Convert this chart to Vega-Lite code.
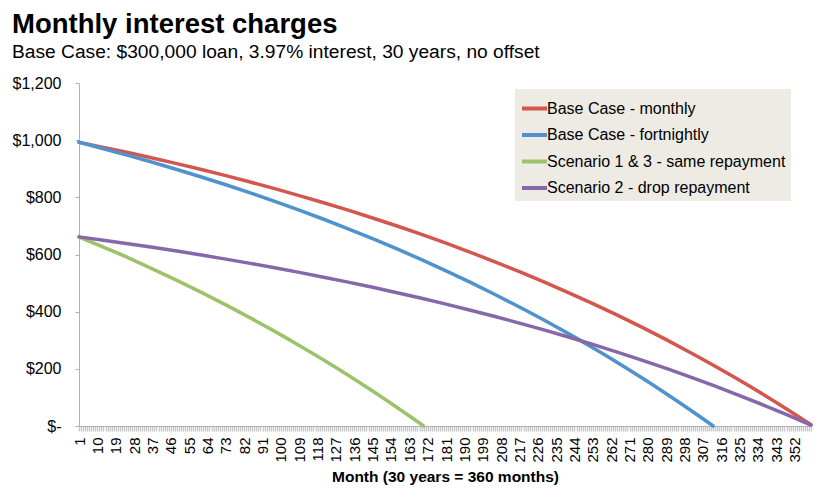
{
  "$schema": "https://vega.github.io/schema/vega-lite/v6.json",
  "width": 732,
  "height": 343,
  "autosize": {"type": "none"},
  "padding": {"left": 79, "top": 83, "right": 13, "bottom": 74},
  "background": "white",
  "title": {
    "text": "Monthly interest charges",
    "subtitle": "Base Case: $300,000 loan, 3.97% interest, 30 years, no offset",
    "anchor": "start",
    "frame": "group",
    "dx": -67,
    "offset": 13,
    "font": "Liberation Sans",
    "fontSize": 27.5,
    "fontWeight": "bold",
    "color": "black",
    "subtitleFont": "Liberation Sans",
    "subtitleFontSize": 19.2,
    "subtitleColor": "black",
    "subtitlePadding": 4
  },
  "data": {
    "values": [
      {"s": "Base Case - monthly", "m": 1, "v": 992.5},
      {"s": "Base Case - monthly", "m": 13, "v": 974.9},
      {"s": "Base Case - monthly", "m": 25, "v": 956.6},
      {"s": "Base Case - monthly", "m": 37, "v": 937.6},
      {"s": "Base Case - monthly", "m": 49, "v": 917.9},
      {"s": "Base Case - monthly", "m": 61, "v": 897.3},
      {"s": "Base Case - monthly", "m": 73, "v": 875.8},
      {"s": "Base Case - monthly", "m": 85, "v": 853.5},
      {"s": "Base Case - monthly", "m": 97, "v": 830.4},
      {"s": "Base Case - monthly", "m": 109, "v": 806.2},
      {"s": "Base Case - monthly", "m": 121, "v": 781.1},
      {"s": "Base Case - monthly", "m": 133, "v": 755.0},
      {"s": "Base Case - monthly", "m": 145, "v": 727.8},
      {"s": "Base Case - monthly", "m": 157, "v": 699.6},
      {"s": "Base Case - monthly", "m": 169, "v": 670.2},
      {"s": "Base Case - monthly", "m": 181, "v": 639.5},
      {"s": "Base Case - monthly", "m": 193, "v": 607.7},
      {"s": "Base Case - monthly", "m": 205, "v": 574.6},
      {"s": "Base Case - monthly", "m": 217, "v": 540.1},
      {"s": "Base Case - monthly", "m": 229, "v": 504.2},
      {"s": "Base Case - monthly", "m": 241, "v": 466.9},
      {"s": "Base Case - monthly", "m": 253, "v": 428.1},
      {"s": "Base Case - monthly", "m": 265, "v": 387.7},
      {"s": "Base Case - monthly", "m": 277, "v": 345.7},
      {"s": "Base Case - monthly", "m": 289, "v": 302.0},
      {"s": "Base Case - monthly", "m": 301, "v": 256.5},
      {"s": "Base Case - monthly", "m": 313, "v": 209.2},
      {"s": "Base Case - monthly", "m": 325, "v": 159.9},
      {"s": "Base Case - monthly", "m": 337, "v": 108.7},
      {"s": "Base Case - monthly", "m": 349, "v": 55.4},
      {"s": "Base Case - monthly", "m": 360, "v": 4.7},
      {"s": "Base Case - fortnightly", "m": 1, "v": 992.5},
      {"s": "Base Case - fortnightly", "m": 13, "v": 970.1},
      {"s": "Base Case - fortnightly", "m": 25, "v": 946.8},
      {"s": "Base Case - fortnightly", "m": 37, "v": 922.6},
      {"s": "Base Case - fortnightly", "m": 49, "v": 897.4},
      {"s": "Base Case - fortnightly", "m": 61, "v": 871.2},
      {"s": "Base Case - fortnightly", "m": 73, "v": 843.9},
      {"s": "Base Case - fortnightly", "m": 85, "v": 815.5},
      {"s": "Base Case - fortnightly", "m": 97, "v": 786.0},
      {"s": "Base Case - fortnightly", "m": 109, "v": 755.3},
      {"s": "Base Case - fortnightly", "m": 121, "v": 723.3},
      {"s": "Base Case - fortnightly", "m": 133, "v": 690.0},
      {"s": "Base Case - fortnightly", "m": 145, "v": 655.4},
      {"s": "Base Case - fortnightly", "m": 157, "v": 619.4},
      {"s": "Base Case - fortnightly", "m": 169, "v": 581.9},
      {"s": "Base Case - fortnightly", "m": 181, "v": 543.0},
      {"s": "Base Case - fortnightly", "m": 193, "v": 502.4},
      {"s": "Base Case - fortnightly", "m": 205, "v": 460.2},
      {"s": "Base Case - fortnightly", "m": 217, "v": 416.3},
      {"s": "Base Case - fortnightly", "m": 229, "v": 370.7},
      {"s": "Base Case - fortnightly", "m": 241, "v": 323.1},
      {"s": "Base Case - fortnightly", "m": 253, "v": 273.7},
      {"s": "Base Case - fortnightly", "m": 265, "v": 222.3},
      {"s": "Base Case - fortnightly", "m": 277, "v": 168.7},
      {"s": "Base Case - fortnightly", "m": 289, "v": 113.1},
      {"s": "Base Case - fortnightly", "m": 301, "v": 55.1},
      {"s": "Base Case - fortnightly", "m": 311, "v": 5.1},
      {"s": "Base Case - fortnightly", "m": 312, "v": 0},
      {"s": "Scenario 1 & 3 - same repayment", "m": 1, "v": 661.3},
      {"s": "Scenario 1 & 3 - same repayment", "m": 13, "v": 625.5},
      {"s": "Scenario 1 & 3 - same repayment", "m": 25, "v": 589.3},
      {"s": "Scenario 1 & 3 - same repayment", "m": 37, "v": 549.6},
      {"s": "Scenario 1 & 3 - same repayment", "m": 49, "v": 509.3},
      {"s": "Scenario 1 & 3 - same repayment", "m": 61, "v": 467.3},
      {"s": "Scenario 1 & 3 - same repayment", "m": 73, "v": 423.7},
      {"s": "Scenario 1 & 3 - same repayment", "m": 85, "v": 378.3},
      {"s": "Scenario 1 & 3 - same repayment", "m": 97, "v": 331.1},
      {"s": "Scenario 1 & 3 - same repayment", "m": 109, "v": 281.9},
      {"s": "Scenario 1 & 3 - same repayment", "m": 121, "v": 230.8},
      {"s": "Scenario 1 & 3 - same repayment", "m": 133, "v": 177.6},
      {"s": "Scenario 1 & 3 - same repayment", "m": 145, "v": 122.3},
      {"s": "Scenario 1 & 3 - same repayment", "m": 157, "v": 64.7},
      {"s": "Scenario 1 & 3 - same repayment", "m": 169, "v": 5.1},
      {"s": "Scenario 1 & 3 - same repayment", "m": 170, "v": 0},
      {"s": "Scenario 2 - drop repayment", "m": 1, "v": 661.7},
      {"s": "Scenario 2 - drop repayment", "m": 13, "v": 650.0},
      {"s": "Scenario 2 - drop repayment", "m": 25, "v": 637.8},
      {"s": "Scenario 2 - drop repayment", "m": 37, "v": 625.1},
      {"s": "Scenario 2 - drop repayment", "m": 49, "v": 611.9},
      {"s": "Scenario 2 - drop repayment", "m": 61, "v": 598.2},
      {"s": "Scenario 2 - drop repayment", "m": 73, "v": 583.9},
      {"s": "Scenario 2 - drop repayment", "m": 85, "v": 569.0},
      {"s": "Scenario 2 - drop repayment", "m": 97, "v": 553.6},
      {"s": "Scenario 2 - drop repayment", "m": 109, "v": 537.5},
      {"s": "Scenario 2 - drop repayment", "m": 121, "v": 520.7},
      {"s": "Scenario 2 - drop repayment", "m": 133, "v": 503.3},
      {"s": "Scenario 2 - drop repayment", "m": 145, "v": 485.2},
      {"s": "Scenario 2 - drop repayment", "m": 157, "v": 466.4},
      {"s": "Scenario 2 - drop repayment", "m": 169, "v": 446.8},
      {"s": "Scenario 2 - drop repayment", "m": 181, "v": 426.4},
      {"s": "Scenario 2 - drop repayment", "m": 193, "v": 405.1},
      {"s": "Scenario 2 - drop repayment", "m": 205, "v": 383.0},
      {"s": "Scenario 2 - drop repayment", "m": 217, "v": 360.1},
      {"s": "Scenario 2 - drop repayment", "m": 229, "v": 336.2},
      {"s": "Scenario 2 - drop repayment", "m": 241, "v": 311.3},
      {"s": "Scenario 2 - drop repayment", "m": 253, "v": 285.4},
      {"s": "Scenario 2 - drop repayment", "m": 265, "v": 258.5},
      {"s": "Scenario 2 - drop repayment", "m": 277, "v": 230.5},
      {"s": "Scenario 2 - drop repayment", "m": 289, "v": 201.3},
      {"s": "Scenario 2 - drop repayment", "m": 301, "v": 171.0},
      {"s": "Scenario 2 - drop repayment", "m": 313, "v": 139.4},
      {"s": "Scenario 2 - drop repayment", "m": 325, "v": 106.6},
      {"s": "Scenario 2 - drop repayment", "m": 337, "v": 72.5},
      {"s": "Scenario 2 - drop repayment", "m": 349, "v": 36.9},
      {"s": "Scenario 2 - drop repayment", "m": 360, "v": 3.1}
    ]
  },
  "mark": {"type": "line", "strokeWidth": 3.5, "interpolate": "monotone", "strokeCap": "round"},
  "encoding": {
    "x": {
      "field": "m",
      "type": "quantitative",
      "scale": {"domain": [1, 360], "nice": false, "zero": false},
      "axis": {
        "title": "Month (30 years = 360 months)",
        "tickCount": 360,
        "labelExpr": "(datum.value - 1) % 9 == 0 ? datum.label : ''",
        "labelAngle": 270,
        "labelFont": "Liberation Sans",
        "labelFontSize": 15,
        "labelColor": "black",
        "labelOverlap": false,
        "labelFlush": false,
        "labelPadding": 6,
        "tickSize": 5,
        "tickWidth": 1.4,
        "tickColor": "#c8c8c8",
        "domainColor": "#b0b0b0",
        "grid": false,
        "titleFont": "Liberation Sans",
        "titleFontSize": 15.5,
        "titleFontWeight": "bold",
        "titleColor": "black",
        "titlePadding": 7
      }
    },
    "y": {
      "field": "v",
      "type": "quantitative",
      "scale": {"domain": [0, 1200], "nice": false},
      "axis": {
        "title": null,
        "values": [0, 200, 400, 600, 800, 1000, 1200],
        "labelExpr": "datum.value == 0 ? '$-' : format(datum.value, '$,')",
        "labelFont": "Liberation Sans",
        "labelFontSize": 16,
        "labelColor": "black",
        "labelPadding": 14,
        "tickSize": 4,
        "tickColor": "#b0b0b0",
        "domainColor": "#b0b0b0",
        "grid": false
      }
    },
    "color": {
      "field": "s",
      "type": "nominal",
      "scale": {
        "domain": ["Base Case - monthly", "Base Case - fortnightly", "Scenario 1 & 3 - same repayment", "Scenario 2 - drop repayment"],
        "range": ["#d4574e", "#4f92cc", "#9dc36a", "#8668aa"]
      },
      "legend": {
        "title": null,
        "orient": "none",
        "legendX": 436,
        "legendY": 6,
        "fillColor": "#eeebe5",
        "padding": 5,
        "symbolType": "stroke",
        "symbolSize": 625,
        "symbolStrokeWidth": 4,
        "labelFont": "Liberation Sans",
        "labelFontSize": 16,
        "labelColor": "black",
        "labelOffset": -2,
        "rowPadding": 3.5,
        "labelLimit": 400
      }
    }
  },
  "config": {"view": {"stroke": null}}
}
